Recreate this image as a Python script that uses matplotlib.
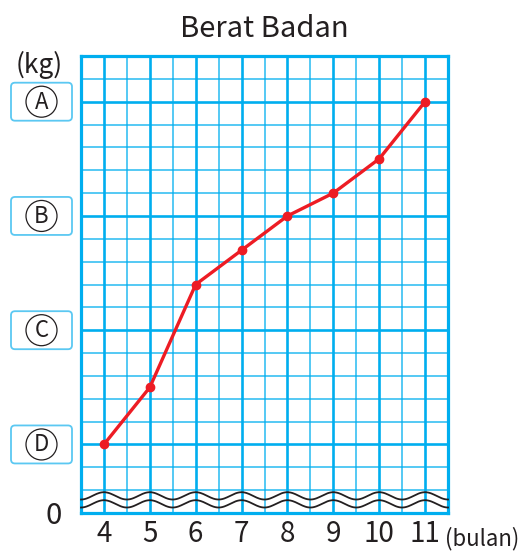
import numpy as np
import matplotlib
matplotlib.use("Agg")
import matplotlib.pyplot as plt
from matplotlib.patches import FancyBboxPatch, Circle

plt.rcParams['font.family'] = ['Noto Sans CJK JP', 'DejaVu Sans']

# ---- data -------------------------------------------------------------
title = "Berat Badan"
months = [4, 5, 6, 7, 8, 9, 10, 11]
# weight in grid steps above level D
weight = [0, 2.5, 7, 8.5, 10, 11, 12.5, 15]
level_names = ["A", "B", "C", "D"]
level_values = [15, 10, 5, 0]
zero_label = "0"
y_unit = "(kg)"
x_unit = "(bulan)"

# ---- style ------------------------------------------------------------
GRID = "#00AEEF"
BOX_EDGE = "#5BC8F2"
RED = "#ED1C24"
INK = "#231F20"

W, H = 525, 552
fig = plt.figure(figsize=(W / 100, H / 100), dpi=100)
ax = fig.add_axes([81 / W, (H - 513) / H, (448 - 81) / W, (513 - 56) / H])

ymin, ymax = -3, 17
ax.set_xlim(months[0] - 0.5, months[-1] + 0.5)
ax.set_ylim(ymin, ymax)

# grid: whole months / every 5 steps thick, half months / single steps thin
ax.set_xticks(months)
ax.set_xticks(np.arange(months[0] - 0.5, months[-1] + 0.51, 0.5), minor=True)
ax.set_yticks([ymin] + sorted(level_values))
ax.set_yticklabels([zero_label] + [""] * len(level_values))
ax.set_yticks(np.arange(ymin, ymax + 1, 1), minor=True)
ax.grid(which="major", color=GRID, lw=1.9)
ax.grid(which="minor", color=GRID, lw=1.1, alpha=0.85)
ax.tick_params(which="both", length=0)
ax.tick_params(axis="x", labelsize=20, pad=4, colors=INK)
ax.tick_params(axis="y", labelsize=21, pad=14, colors=INK)
for s in ax.spines.values():
    s.set_color(GRID)
    s.set_linewidth(2.3)

ax.set_title(title, fontsize=21, pad=13.5, color=INK)

# axis break waves
xw = np.linspace(months[0] - 0.5, months[-1] + 0.5, 400)
for base in (-2.25, -2.6):
    ax.plot(xw, base + 0.16 * np.cos(2 * np.pi * (xw - months[0])),
            color=INK, lw=1.3, zorder=3, clip_on=False)

# weight line
ax.plot(months, weight, color=RED, lw=2.4, marker="o", ms=6,
        zorder=4, clip_on=False)

# ---- labels outside the grid, in pixel space ---------------------------
ov = fig.add_axes([0, 0, 1, 1], zorder=-1)
ov.set_xlim(0, W)
ov.set_ylim(H, 0)
ov.axis("off")

fig.canvas.draw()
for name, val in zip(level_names, level_values):
    py = H - ax.transData.transform((months[0], val))[1]
    box = FancyBboxPatch((11 + 4, py - 19 + 4), 61 - 8, 38 - 8,
                         boxstyle="round,pad=4", fc="white",
                         ec=BOX_EDGE, lw=1.3)
    ov.add_patch(box)
    ov.add_patch(Circle((41.5, py), 15.5, fc="none", ec=INK, lw=0.9))
    ov.text(41.5, py + 0.5, name, fontsize=16, ha="center",
            va="center", color=INK)

ov.text(39, 73, y_unit, fontsize=19, ha="center", va="baseline", color=INK)
ov.text(445, 545, x_unit, fontsize=16, ha="left", va="baseline", color=INK)

fig.savefig("out.png", dpi=100)
